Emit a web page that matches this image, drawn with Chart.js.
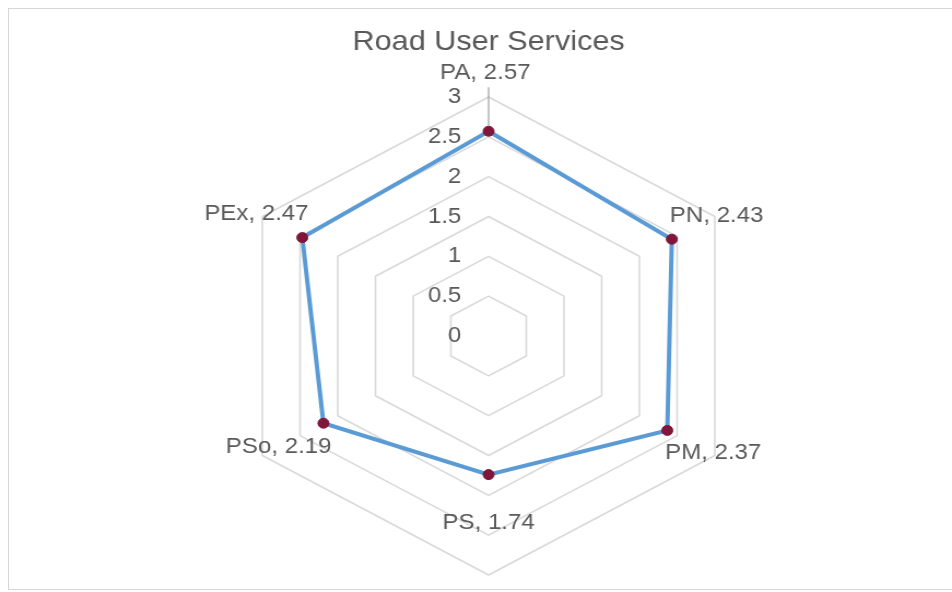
<!DOCTYPE html>
<html>
<head>
<meta charset="utf-8">
<title>Road User Services</title>
<script src="https://cdn.jsdelivr.net/npm/chart.js@4/dist/chart.umd.min.js"></script>
<style>
  html, body { margin: 0; padding: 0; background: #fff; overflow: hidden; }
  body { width: 952px; height: 592px; position: relative; }
  /* chart frame */
  .frame { position: absolute; left: 8px; top: 8px; width: 960px; height: 582px; border: 1px solid #d6d6d6; box-sizing: border-box; }
  /* the reference is stretched a little horizontally */
  .wrap { position: absolute; left: 0; top: 0; width: 871px; height: 592px; transform: scaleX(1.093); transform-origin: 0 0; }
</style>
</head>
<body>
<div class="frame"></div>
<div class="wrap"><canvas id="radar" width="871" height="592"></canvas></div>
<script>
const categories = ['PA', 'PN', 'PM', 'PS', 'PSo', 'PEx'];
const scores = [2.57, 2.43, 2.37, 1.74, 2.19, 2.47];
const tickValues = [0, 0.5, 1, 1.5, 2, 2.5, 3];

const TEXT = '#595959';
const FONT = "'Liberation Sans', Arial, sans-serif";

// ── tick labels: right-aligned left of the vertical axis ──
const tickLabelsPlugin = {
  id: 'tickLabels',
  beforeDatasetsDraw(chart) {
    const scale = chart.scales.r;
    const ctx = chart.ctx;
    ctx.save();
    ctx.font = `22px ${FONT}`;
    ctx.fillStyle = TEXT;
    ctx.textAlign = 'right';
    ctx.textBaseline = 'middle';
    tickValues.forEach(v => {
      const y = scale.yCenter - scale.getDistanceFromCenterForValue(v);
      ctx.fillText(String(v), scale.xCenter - 25, y);
    });
    ctx.restore();
  },
};

// ── data labels "PA, 2.57" next to each point ──
const LABEL_OFFSETS = [[-3, -58], [41, -23], [42, 23], [0, 48], [-41, 24], [-42, -24]];

const dataLabelsPlugin = {
  id: 'dataLabels',
  afterDatasetsDraw(chart) {
    const ctx = chart.ctx;
    const meta = chart.getDatasetMeta(0);
    ctx.save();
    meta.data.forEach((pt, i) => {
      const [dx, dy] = LABEL_OFFSETS[i];
      const lx = pt.x + dx, ly = pt.y + dy;
      // leader line for the top label
      if (i === 0) {
        ctx.strokeStyle = '#8c8c8c';
        ctx.lineWidth = 1;
        ctx.beginPath();
        ctx.moveTo(pt.x, ly + 14);
        ctx.lineTo(pt.x, pt.y - 5);
        ctx.stroke();
      }
      ctx.font = `22px ${FONT}`;
      ctx.fillStyle = TEXT;
      ctx.textAlign = 'center';
      ctx.textBaseline = 'middle';
      ctx.fillText(`${categories[i]}, ${scores[i].toFixed(2)}`, lx, ly);
    });
    ctx.restore();
  },
};

new Chart(document.getElementById('radar'), {
  type: 'radar',
  data: {
    labels: categories,
    datasets: [{
      label: 'Road User Services',
      data: scores,
      borderColor: '#5b9bd5',
      borderWidth: 4,
      backgroundColor: 'rgba(0,0,0,0)',
      fill: false,
      pointRadius: 5,
      pointBackgroundColor: '#80163a',
      pointBorderColor: '#80163a',
      pointBorderWidth: 1,
    }],
  },
  plugins: [tickLabelsPlugin, dataLabelsPlugin],
  options: {
    responsive: false,
    animation: false,
    layout: { padding: { top: 10, bottom: 17, left: 208, right: 185 } },
    plugins: {
      legend: { display: false },
      tooltip: { enabled: false },
      title: {
        display: true,
        text: 'Road User Services',
        color: TEXT,
        font: { family: FONT, size: 28, weight: 'normal', lineHeight: 1.2 },
        padding: { top: 15, bottom: 38.4 },
      },
    },
    scales: {
      r: {
        min: 0,
        max: 3,
        ticks: { stepSize: 0.5, display: false },
        grid: { color: '#d9d9d9', lineWidth: 1.6 },
        angleLines: { display: false },
        pointLabels: { display: false },
      },
    },
  },
});
</script>
</body>
</html>
